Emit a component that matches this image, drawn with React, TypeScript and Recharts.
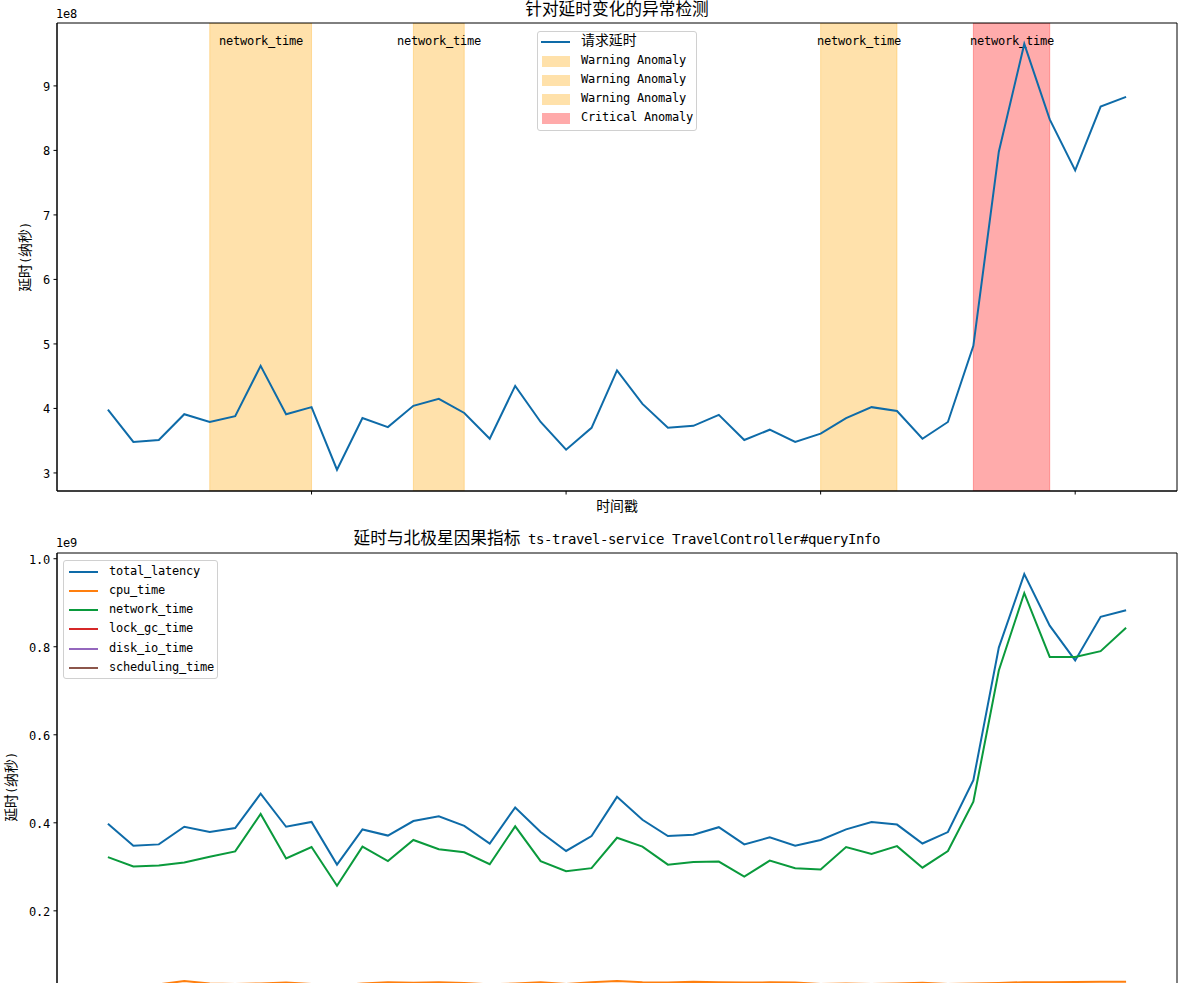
import React from "react";
import {
  ComposedChart,
  Line,
  XAxis,
  YAxis,
  ReferenceArea,
} from "recharts";

// 数据（从图中读取，单位：纳秒）
const latency = [
  3.98e8, 3.48e8, 3.51e8, 3.91e8, 3.79e8, 3.88e8, 4.66e8, 3.91e8, 4.02e8, 3.05e8,
  3.85e8, 3.71e8, 4.04e8, 4.15e8, 3.93e8, 3.53e8, 4.35e8, 3.79e8, 3.36e8, 3.7e8,
  4.59e8, 4.07e8, 3.7e8, 3.73e8, 3.9e8, 3.51e8, 3.67e8, 3.48e8, 3.61e8, 3.85e8,
  4.02e8, 3.96e8, 3.53e8, 3.79e8, 4.97e8, 7.98e8, 9.65e8, 8.48e8, 7.69e8, 8.68e8,
  8.83e8,
];

const networkTime = [
  3.22e8, 3.01e8, 3.03e8, 3.1e8, 3.23e8, 3.35e8, 4.2e8, 3.19e8, 3.45e8, 2.57e8,
  3.46e8, 3.13e8, 3.61e8, 3.4e8, 3.33e8, 3.06e8, 3.92e8, 3.13e8, 2.9e8, 2.97e8,
  3.66e8, 3.46e8, 3.05e8, 3.11e8, 3.12e8, 2.78e8, 3.14e8, 2.97e8, 2.94e8, 3.45e8,
  3.29e8, 3.47e8, 2.98e8, 3.36e8, 4.48e8, 7.46e8, 9.22e8, 7.77e8, 7.77e8, 7.9e8,
  8.43e8,
];

const cpuTime = [
  3.3e7, 3.1e7, 3.3e7, 4.05e7, 3.5e7, 3.4e7, 3.5e7, 3.7e7, 3.4e7, 3.0e7,
  3.5e7, 3.75e7, 3.65e7, 3.75e7, 3.6e7, 3.3e7, 3.5e7, 3.8e7, 3.4e7, 3.8e7,
  4.05e7, 3.8e7, 3.7e7, 3.9e7, 3.75e7, 3.7e7, 3.75e7, 3.7e7, 3.4e7, 3.5e7,
  3.4e7, 3.5e7, 3.65e7, 3.4e7, 3.5e7, 3.6e7, 3.8e7, 3.8e7, 3.85e7, 3.9e7,
  3.9e7,
];

const lockGcTime = [
  1.2e7, 0.8e7, 0.9e7, 1.1e7, 0.9e7, 1.0e7, 1.3e7, 1.0e7, 1.1e7, 0.7e7,
  1.0e7, 0.9e7, 1.1e7, 1.2e7, 1.0e7, 0.8e7, 1.2e7, 1.0e7, 0.8e7, 0.9e7,
  1.3e7, 1.1e7, 0.9e7, 0.9e7, 1.0e7, 0.8e7, 0.9e7, 0.8e7, 0.9e7, 1.0e7,
  1.1e7, 1.0e7, 0.8e7, 1.0e7, 1.3e7, 1.4e7, 1.5e7, 1.3e7, 1.2e7, 1.4e7,
  1.4e7,
];

const diskIoTime = [
  0.6e7, 0.5e7, 0.5e7, 0.6e7, 0.5e7, 0.6e7, 0.7e7, 0.6e7, 0.6e7, 0.4e7,
  0.6e7, 0.5e7, 0.6e7, 0.6e7, 0.6e7, 0.5e7, 0.6e7, 0.5e7, 0.5e7, 0.5e7,
  0.7e7, 0.6e7, 0.5e7, 0.5e7, 0.6e7, 0.5e7, 0.5e7, 0.5e7, 0.5e7, 0.6e7,
  0.6e7, 0.6e7, 0.5e7, 0.5e7, 0.7e7, 0.8e7, 0.9e7, 0.8e7, 0.7e7, 0.8e7,
  0.8e7,
];

const schedulingTime = [
  1.3e7, 1.1e7, 1.1e7, 1.2e7, 1.2e7, 1.2e7, 1.4e7, 1.1e7, 1.2e7, 1.0e7,
  1.2e7, 1.1e7, 1.2e7, 1.3e7, 1.2e7, 1.1e7, 1.3e7, 1.2e7, 1.0e7, 1.1e7,
  1.4e7, 1.2e7, 1.1e7, 1.2e7, 1.2e7, 1.1e7, 1.1e7, 1.1e7, 1.2e7, 1.2e7,
  1.2e7, 1.2e7, 1.1e7, 1.2e7, 1.5e7, 1.6e7, 1.7e7, 1.6e7, 1.5e7, 1.6e7,
  1.6e7,
];

// 异常区间（按采样序号）
const bandStart = [4, 12, 28, 34];
const bandEnd = [8, 14, 31, 37];
const bandLevel = ["warning", "warning", "warning", "critical"];
const bandLabel = ["network_time", "network_time", "network_time", "network_time"];

const xTicks = [8, 18, 28, 38];
const topYTicks = [3e8, 4e8, 5e8, 6e8, 7e8, 8e8, 9e8];
const bottomYTicks = [0.2e9, 0.4e9, 0.6e9, 0.8e9, 1.0e9];

const X_DOMAIN: [number, number] = [-2, 42];
const TOP_Y: [number, number] = [2.72e8, 9.975e8];
const BOTTOM_Y: [number, number] = [-0.048e9, 1.013e9];

const data = latency.map((v, i) => ({
  i,
  latency: v,
  cpu: cpuTime[i],
  network: networkTime[i],
  lock: lockGcTime[i],
  disk: diskIoTime[i],
  sched: schedulingTime[i],
}));

const FONT = "MplMono, 'Noto Sans CJK SC', sans-serif";
const FS = 13.9;
const TITLE_FS = 16.7;

const BLUE = "#0e6ba8";
const ORANGE = "#ff7f0e";
const GREEN = "#0a9a3c";
const RED = "#d62728";
const PURPLE = "#9467bd";
const BROWN = "#8c564b";

const bandColor = (level: string) => (level === "critical" ? "#ff0000" : "#ffa500");

const series = [
  { key: "latency", name: "total_latency", color: BLUE },
  { key: "cpu", name: "cpu_time", color: ORANGE },
  { key: "network", name: "network_time", color: GREEN },
  { key: "lock", name: "lock_gc_time", color: RED },
  { key: "disk", name: "disk_io_time", color: PURPLE },
  { key: "sched", name: "scheduling_time", color: BROWN },
];

const tickStyle = { fontSize: FS, fill: "#000", fontFamily: FONT };

function Text({
  x,
  y,
  size = FS,
  rotate = false,
  children,
}: {
  x: number;
  y: number;
  size?: number;
  rotate?: boolean;
  children: React.ReactNode;
}) {
  return (
    <div
      style={{
        position: "absolute",
        left: x,
        top: y,
        transform: `translate(-50%, -50%)${rotate ? " rotate(-90deg)" : ""}`,
        fontFamily: FONT,
        fontSize: size,
        lineHeight: `${size}px`,
        whiteSpace: "nowrap",
        color: "#000",
      }}
    >
      {children}
    </div>
  );
}

function LegendBox({
  left,
  top,
  width,
  height,
  rowTop,
  rowGap,
  handleX,
  textX,
  items,
}: {
  left: number;
  top: number;
  width: number;
  height: number;
  rowTop: number;
  rowGap: number;
  handleX: number;
  textX: number;
  items: { label: string; color: string; kind: "line" | "patch"; alpha?: number }[];
}) {
  return (
    <div
      style={{
        position: "absolute",
        left,
        top,
        width,
        height,
        border: "1px solid #d0d0d0",
        borderRadius: 3,
        background: "rgba(255,255,255,0.8)",
        boxSizing: "border-box",
      }}
    >
      {items.map((it, k) => {
        const cy = rowTop + rowGap * k - top;
        return (
          <React.Fragment key={k}>
            {it.kind === "line" ? (
              <div
                style={{
                  position: "absolute",
                  left: handleX - left,
                  top: cy - 1,
                  width: 29,
                  height: 2,
                  background: it.color,
                }}
              />
            ) : (
              <div
                style={{
                  position: "absolute",
                  left: handleX - left + 1,
                  top: cy - 5.5,
                  width: 28,
                  height: 11,
                  boxSizing: "border-box",
                  background: it.color,
                  opacity: it.alpha ?? 0.33,
                  border: `1px solid ${it.color}`,
                }}
              />
            )}
            <div
              style={{
                position: "absolute",
                left: textX - left,
                top: cy - FS / 2,
                fontFamily: FONT,
                fontSize: FS,
                lineHeight: `${FS}px`,
                whiteSpace: "nowrap",
                color: "#000",
              }}
            >
              {it.label}
            </div>
          </React.Fragment>
        );
      })}
    </div>
  );
}

export default function App() {
  return (
    <div
      style={{
        position: "absolute",
        left: 0,
        top: 0,
        width: 1197,
        height: 983,
        overflow: "hidden",
        background: "#fff",
      }}
    >
      <style>{`@font-face{font-family:'MplMono';src:local('DejaVu Sans Mono'),local('DejaVuSansMono');size-adjust:83%;}`}</style>

      {/* 上图：异常检测 */}
      <div style={{ position: "absolute", left: 0, top: 0 }}>
        <ComposedChart
          width={1197}
          height={530}
          data={data}
          margin={{ top: 23, right: 20, bottom: 0, left: 0 }}
        >
          <XAxis
            dataKey="i"
            type="number"
            domain={X_DOMAIN}
            ticks={xTicks}
            tickFormatter={() => ""}
            height={39}
            tickSize={3.5}
            allowDataOverflow
            axisLine={{ stroke: "#000", strokeWidth: 1 }}
            tickLine={{ stroke: "#000", strokeWidth: 1 }}
          />
          <YAxis
            type="number"
            domain={TOP_Y}
            ticks={topYTicks}
            tickFormatter={(v: number) => String(Math.round(v / 1e8))}
            width={57}
            tickSize={3.5}
            tickMargin={3.5}
            allowDataOverflow
            tick={tickStyle}
            axisLine={{ stroke: "#000", strokeWidth: 1 }}
            tickLine={{ stroke: "#000", strokeWidth: 1 }}
          />
          {bandStart.map((s, k) => (
            <ReferenceArea
              key={k}
              x1={s}
              x2={bandEnd[k]}
              fill={bandColor(bandLevel[k])}
              fillOpacity={0.33}
              stroke={bandColor(bandLevel[k])}
              strokeOpacity={0.3}
              strokeWidth={1}
              ifOverflow="hidden"
              label={(props: any) => {
                const vb = props.viewBox || {};
                return (
                  <text
                    x={vb.x + vb.width / 2}
                    y={vb.y + 22}
                    textAnchor="middle"
                    fontSize={FS}
                    fontFamily={FONT}
                    fill="#000"
                  >
                    {bandLabel[k]}
                  </text>
                );
              }}
            />
          ))}
          <Line
            dataKey="latency"
            stroke={BLUE}
            strokeWidth={2}
            dot={false}
            activeDot={false}
            isAnimationActive={false}
          />
          <ReferenceArea
            x1={X_DOMAIN[0]}
            x2={X_DOMAIN[1]}
            y1={TOP_Y[0]}
            y2={TOP_Y[1]}
            fill="none"
            fillOpacity={0}
            stroke="#000"
            strokeWidth={1}
          />
        </ComposedChart>
      </div>

      {/* 下图：因果指标 */}
      <div style={{ position: "absolute", left: 0, top: 530 }}>
        <ComposedChart
          width={1197}
          height={530}
          data={data}
          margin={{ top: 23, right: 20, bottom: 0, left: 0 }}
        >
          <XAxis
            dataKey="i"
            type="number"
            domain={X_DOMAIN}
            ticks={xTicks}
            tickFormatter={() => ""}
            height={40}
            tickSize={3.5}
            allowDataOverflow
            axisLine={{ stroke: "#000", strokeWidth: 1 }}
            tickLine={{ stroke: "#000", strokeWidth: 1 }}
          />
          <YAxis
            type="number"
            domain={BOTTOM_Y}
            ticks={bottomYTicks}
            tickFormatter={(v: number) => (v / 1e9).toFixed(1)}
            width={57}
            tickSize={3.5}
            tickMargin={3.5}
            allowDataOverflow
            tick={tickStyle}
            axisLine={{ stroke: "#000", strokeWidth: 1 }}
            tickLine={{ stroke: "#000", strokeWidth: 1 }}
          />
          {series.map((s) => (
            <Line
              key={s.key}
              dataKey={s.key}
              name={s.name}
              stroke={s.color}
              strokeWidth={2}
              dot={false}
              activeDot={false}
              isAnimationActive={false}
            />
          ))}
          <ReferenceArea
            x1={X_DOMAIN[0]}
            x2={X_DOMAIN[1]}
            y1={BOTTOM_Y[0]}
            y2={BOTTOM_Y[1]}
            fill="none"
            fillOpacity={0}
            stroke="#000"
            strokeWidth={1}
          />
        </ComposedChart>
      </div>

      {/* 标题与轴标签 */}
      <Text x={617} y={10} size={TITLE_FS}>针对延时变化的异常检测</Text>
      <Text x={617} y={539} size={TITLE_FS}>
        延时与北极星因果指标 ts-travel-service TravelController#queryInfo
      </Text>
      <Text x={66} y={14.5}>1e8</Text>
      <Text x={66} y={544}>1e9</Text>
      <Text x={27} y={257} rotate>延时(纳秒)</Text>
      <Text x={13} y={787} rotate>延时(纳秒)</Text>
      <Text x={617} y={508}>时间戳</Text>

      <LegendBox
        left={537}
        top={30.5}
        width={160}
        height={100}
        rowTop={41}
        rowGap={19}
        handleX={540}
        textX={580}
        items={[
          { label: "请求延时", color: BLUE, kind: "line" },
          ...bandLevel.map((lv) => ({
            label: lv === "critical" ? "Critical Anomaly" : "Warning Anomaly",
            color: bandColor(lv),
            kind: "patch" as const,
          })),
        ]}
      />
      <LegendBox
        left={63}
        top={560}
        width={155}
        height={118.5}
        rowTop={570.7}
        rowGap={19.2}
        handleX={68}
        textX={108}
        items={series.map((s) => ({ label: s.name, color: s.color, kind: "line" as const }))}
      />
    </div>
  );
}
